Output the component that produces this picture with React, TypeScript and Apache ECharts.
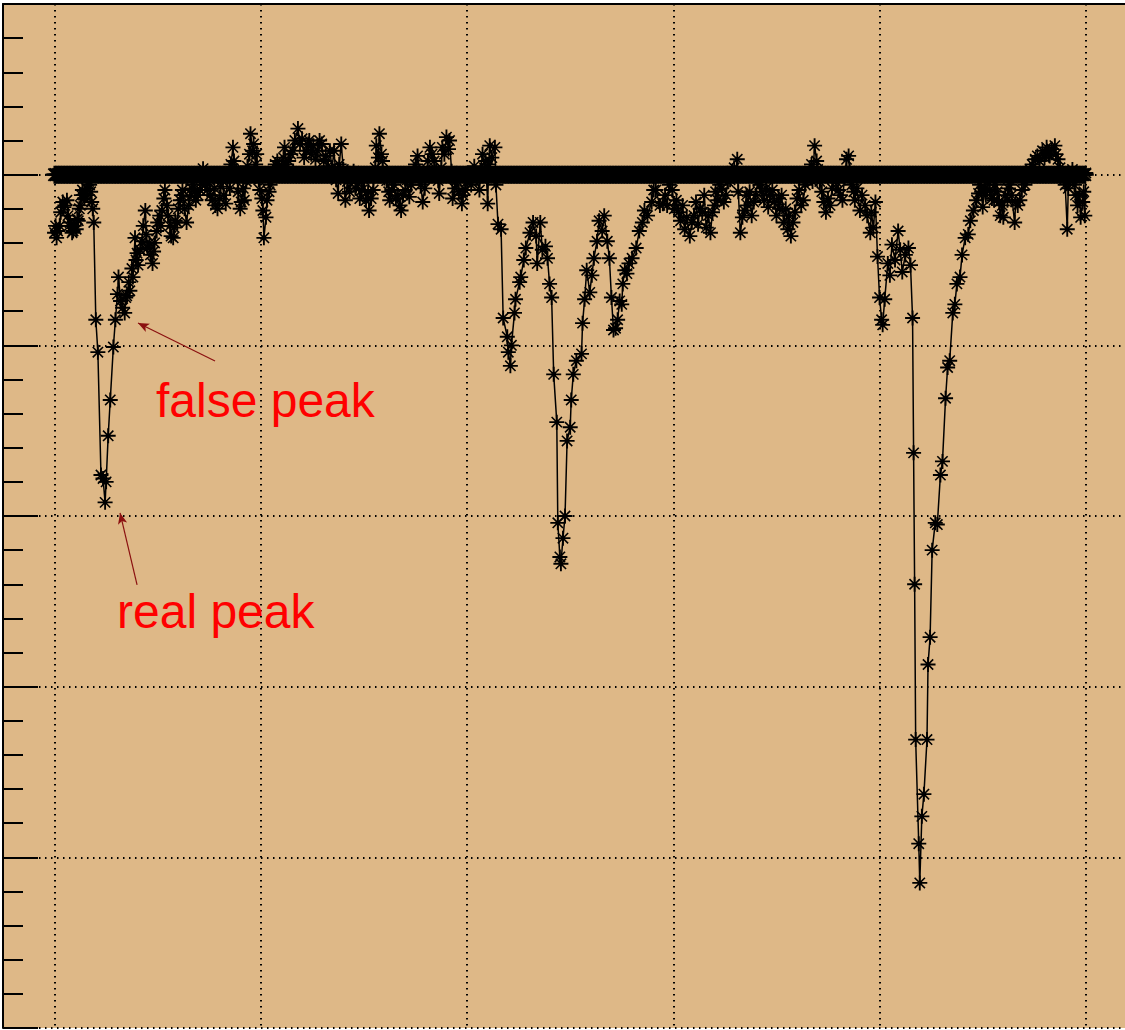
import React, { useEffect, useRef } from "react";
import * as echarts from "echarts";

// ---- signal samples [x = sample index, y = amplitude], split in segments ----
const segStart: number[][] = [
  [0, -34], [1, -30], [2, -37], [3, -33], [5, -30], [6, -22], [8, -16], [9, -19], [10, -18], [12, -15], [13, -24], [14, -30], [15, -28], [17, -34], [18, -33], [19, -30], [21, -32], [22, -26], [23, -27], [24, -20], [25, -18], [26, -12], [27, -9], [28, -12], [29, -14], [31, -8], [32, -12], [33, -4], [34, -6], [35, -10], [36, -16], [37, -20], [38, -28],
];
const segDip1: number[][] = [
  [40, -85], [42, -104], [45, -176], [47, -178], [49, -192], [50, -180], [52, -153], [54, -132], [57, -101], [59, -85], [61, -70], [62, -60], [64, -74], [66, -78], [68, -81], [69, -72], [70, -71], [72, -63], [73, -68], [75, -55], [76, -60], [78, -37], [79, -50], [80, -46], [81, -53], [83, -44], [85, -39], [86, -30], [88, -21], [89, -35], [90, -43], [92, -40], [93, -47], [95, -52], [96, -45], [97, -40], [99, -33], [100, -28], [102, -24], [103, -30], [104, -21], [106, -14], [107, -9], [109, -18], [110, -24], [112, -30], [113, -36], [115, -37], [116, -31], [117, -27], [119, -28], [120, -20], [122, -15], [123, -12], [124, -9], [126, -20], [128, -28], [130, -18], [131, -13], [133, -8], [134, -6], [136, -10], [137, -15], [139, -12], [141, -9],
];
const segRise: number[][] = [
  [143, -4], [144, 3.5], [146, -6], [148, -9], [150, -3], [151, -12], [153, -15], [155, -8], [156, -18], [158, -20], [160, -14], [161, -7], [163, -2], [164, -12], [166, -17], [168, -0.6], [170, -8], [171, 6], [173, 16], [174, 8], [176, 2], [178, -10], [180, -20], [181, -16], [183, -8], [184, -15], [186, -4], [187, 5], [189, 12], [190, 24], [192, 14], [193, 18], [195, 6], [196, 12], [198, -3], [199, -9], [201, -14], [202, -21], [203, -37], [205, -25], [206, -15], [208, -10], [209, -6], [211, -2], [212, 2], [214, 6], [216, 8], [218, 3], [220, 5], [222, 10], [223, 16], [225, 6], [227, 8], [229, 12], [231, 14], [233, 20], [236, 27], [238, 18], [240, 21], [242, 10], [244, 14], [246, 18], [247, 20], [249, 12], [251, 17], [253, 9], [255, 14], [257, 20], [259, 18], [261, 8], [263, 11], [265, 5], [267, 14],
];
const segPlateau: number[][] = [
  [269, 4], [271, 14], [273, -3], [275, -11], [276, 6], [278, 18], [280, 3], [282, -15], [284, -4], [286, -10], [288, -2], [290, 2], [292, -8], [294, -5], [296, -14], [298, -9], [300, -3], [302, -15], [304, -10], [305, -21], [307, -14], [309, -9], [311, 4], [312, 17], [314, 10], [315, 24], [317, 12], [318, 8], [320, -2], [322, -3.5], [324, -10], [325, -15], [327, -9], [329, -6], [331, -14], [333, -12], [335, -18], [336, -21], [338, -12], [340, -9], [342, -3], [344, -13], [346, -6], [348, 2], [350, 6], [352, 11], [354, 2], [355, -6], [357, -16], [359, -8], [360, -0.6], [362, 8], [364, 16], [366, 12], [368, 8], [370, 2], [372, -3.5], [373, -11], [375, 4], [376, 16], [378, 12], [380, 22], [382, 15], [383, 20], [385, 2], [386, -14], [388, -8], [390, -3.5], [392, -10], [395, -17], [396, -12], [398, -9], [400, -4], [402, -0.6], [404, -6], [407, 5], [409, -2], [412, -9], [413, 2], [415, 12], [417, 4], [418, 8], [420, -17], [421, 6], [422, 17], [424, 10], [427, 16], [428, -6], [430, -29], [433, -32],
];
const segDip2: number[][] = [
  [435, -84], [439, -95], [440, -104], [442, -112], [443, -100], [446, -81], [447, -73], [451, -63], [452, -60], [455, -50], [457, -43], [461, -34], [464, -28], [467, -36], [468, -52], [471, -28], [473, -44], [476, -42], [478, -49], [480, -64], [482, -72], [484, -117], [487, -145], [488, -204], [490, -224], [491, -228], [493, -213], [495, -200], [497, -156], [500, -148], [501, -132], [503, -117], [506, -109], [511, -105], [512, -87], [514, -73], [516, -56], [519, -69], [521, -59], [523, -49], [526, -39], [528, -27], [531, -33], [533, -24], [536, -39], [538, -49], [540, -72], [542, -91], [544, -90], [546, -85], [548, -74], [550, -76], [551, -64], [553, -56], [555, -58], [557, -52], [560, -49], [564, -43], [567, -33], [570, -28], [572, -21], [575, -24], [579, -16], [581, -9], [583, -9], [587, -18], [590, -17],
];
const segNoise: number[][] = [
  [592, -12], [594, -18], [596, -6], [599, -9], [601, -20], [603, -15], [605, -22], [607, -27], [609, -18], [611, -32], [613, -25], [616, -36], [618, -28], [620, -24], [622, -16], [624, -29], [626, -20], [628, -22], [630, -12], [632, -31], [634, -24], [636, -34], [638, -22], [640, -18], [641, -10], [643, -15], [645, -6], [647, -8], [649, -16], [651, -12], [653, -4], [655, -3], [657, 2], [659, 4], [660, 0], [662, 9], [663, -10], [665, -34], [667, -25], [669, -21], [671, -12], [672, -18], [674, -10], [676, -24], [678, -16], [680, -12], [682, -4], [684, -6], [686, -10], [688, -15], [690, -8], [692, -19], [694, -12], [696, -9], [698, -16], [700, -24], [702, -14], [703, -20], [705, -12], [707, -28], [709, -20], [711, -32], [712, -24], [714, -36], [716, -28], [718, -22], [720, -14], [722, -9], [724, -18], [726, -15], [728, -6], [730, -3], [732, 2], [734, 6], [735, -4], [737, 17], [739, 8], [740, 3], [742, -4], [744, -10], [746, -16], [748, -22], [750, -14], [752, -18], [754, -8], [756, 0], [758, -4], [760, -9], [762, -12], [764, -15], [766, -2], [768, 9], [770, 11], [771, 2], [773, -6], [775, -10], [776, -15], [778, -8], [781, -21], [783, -12], [786, -18], [788, -24], [791, -34], [792, -22], [794, -31], [796, -16],
];
const segDip3: number[][] = [
  [798, -48], [800, -72], [802, -85], [803, -88], [805, -73], [808, -52], [810, -59], [812, -41], [815, -50], [818, -33], [820, -44], [822, -57], [825, -47], [828, -43], [830, -53], [832, -84], [833, -163], [834, -240], [835, -331], [838, -392], [839, -415], [841, -376], [843, -363], [846, -331], [847, -287], [849, -271], [851, -220], [854, -204], [856, -205], [859, -176], [861, -168], [864, -131], [866, -113], [868, -109], [871, -81], [873, -76], [875, -64], [878, -60], [880, -47], [883, -37], [886, -35], [888, -27], [891, -21], [894, -15], [896, -11], [897, -6],
];
const segEnd: number[][] = [
  [899, -10], [900, -19], [902, -8], [903, -12], [905, -4], [907, -9], [909, -14], [911, -15], [912, -6], [914, -10], [916, -16], [917, -24], [919, -18], [920, -25], [922, -12], [924, -15], [925, -8], [926, -6], [928, -12], [931, -28], [932, -16], [934, -18], [936, -15], [938, -9], [941, -6], [943, -2], [946, 3], [948, 6], [951, 9], [953, 11], [955, 8], [958, 14], [960, 10], [962, 16], [964, 12], [965, 11], [967, 15], [970, 17], [971, 12], [973, 9], [975, 4], [977, 0], [979, -3], [980, -6], [982, -32], [983, -8], [985, -2], [987, 3], [989, -6], [990, -12], [992, -18], [994, -12], [995, -25], [997, -16], [998, -10], [999, -24], [1000, 1],
];

// ---- flat reference (baseline) samples ----
const baseFrom = 0;
const baseTo = 1000;
const baseStep = 1.5;
const baseValue = 0;

// ---- axes ----
const xMin = -50;
const xMax = 1038;
const yMin = -500;
const yMax = 100;

// ---- annotations (data coordinates) ----
const arrowFalsePeak = [[155.6, -109.2], [80.9, -86.9]];
const arrowRealPeak = [[80, -240.4], [63.5, -198.2]];
const annotationTexts = ["false peak", "real peak"];

const STAR =
  "path://M0 7H16V9H0Z M7 0H9V16H7Z M1.9 3.1L3.1 1.9L14.1 12.9L12.9 14.1Z M12.9 1.9L14.1 3.1L3.1 14.1L1.9 12.9Z M5.6 5.6H10.4V10.4H5.6Z";

const DOT = [1.5, 4.5];
const NONE = "rgba(0,0,0,0)";

export default function App() {
  const ref = useRef<HTMLDivElement>(null);

  useEffect(() => {
    if (!ref.current) return;
    const chart = echarts.init(ref.current, null, { renderer: "svg" });

    const signal = [
      ...segStart, ...segDip1, ...segRise, ...segPlateau, ...segDip2, ...segNoise, ...segDip3, ...segEnd,
    ];
    const baseline: number[][] = [];
    for (let x = baseFrom; x <= baseTo + 1e-9; x += baseStep) baseline.push([x, baseValue]);

    chart.setOption({
      animation: false,
      backgroundColor: "#ffffff",
      grid: {
        left: 3,
        right: 0,
        top: 4,
        bottom: 2,
        show: true,
        backgroundColor: "#deb887",
        borderWidth: 0,
      },
      xAxis: [
        {
          type: "value",
          min: xMin,
          max: xMax,
          interval: 50,
          axisLine: { show: false },
          axisTick: { show: false },
          axisLabel: { show: false },
          splitLine: {
            show: true,
            lineStyle: { color: [NONE, "#000", NONE, NONE], type: DOT, width: 2 },
          },
        },
        {
          type: "value",
          position: "top",
          min: xMin,
          max: xMax,
          axisLine: { show: true, onZero: false, lineStyle: { color: "#000", width: 2 } },
          axisTick: { show: false },
          axisLabel: { show: false },
          splitLine: { show: false },
        },
      ],
      yAxis: {
        type: "value",
        min: yMin,
        max: yMax,
        interval: 100,
        axisLine: { show: true, onZero: false, lineStyle: { color: "#000", width: 2 } },
        axisTick: { show: true, inside: true, length: 35, lineStyle: { color: "#000", width: 2 } },
        minorTick: { show: true, splitNumber: 5, length: 20, lineStyle: { color: "#000", width: 2 } },
        axisLabel: { show: false },
        splitLine: { show: true, lineStyle: { color: "#000", type: DOT, width: 2 } },
      },
      series: [
        {
          type: "line",
          data: baseline,
          symbol: STAR,
          symbolSize: 18,
          symbolKeepAspect: true,
          itemStyle: { color: "#000" },
          lineStyle: { color: "#000", width: 1 },
          silent: true,
          z: 2,
        },
        {
          type: "line",
          data: signal,
          symbol: STAR,
          symbolSize: 15,
          symbolKeepAspect: true,
          itemStyle: { color: "#000" },
          lineStyle: { color: "#000", width: 1.5 },
          silent: true,
          z: 3,
          markLine: {
            silent: true,
            symbol: ["none", "arrow"],
            symbolSize: [7, 11],
            label: { show: false },
            lineStyle: { color: "#8b1010", width: 1.2, type: "solid" },
            data: [
              [{ coord: arrowFalsePeak[0] }, { coord: arrowFalsePeak[1] }],
              [{ coord: arrowRealPeak[0] }, { coord: arrowRealPeak[1] }],
            ],
          },
        },
      ],
      graphic: [
        {
          type: "text",
          z: 10,
          style: {
            text: annotationTexts[0],
            x: 156,
            y: 400,
            font: '48px "Liberation Sans", Arial, sans-serif',
            fill: "#ff0000",
            align: "left",
            verticalAlign: "middle",
            textAlign: "left",
            textVerticalAlign: "middle",
          },
        },
        {
          type: "text",
          z: 10,
          style: {
            text: annotationTexts[1],
            x: 117,
            y: 611,
            font: '48px "Liberation Sans", Arial, sans-serif',
            fill: "#ff0000",
            align: "left",
            verticalAlign: "middle",
            textAlign: "left",
            textVerticalAlign: "middle",
          },
        },
      ],
    });

    return () => chart.dispose();
  }, []);

  return (
    <div
      ref={ref}
      style={{ position: "fixed", left: 0, top: 0, width: 1125, height: 1030, background: "#fff" }}
    />
  );
}
